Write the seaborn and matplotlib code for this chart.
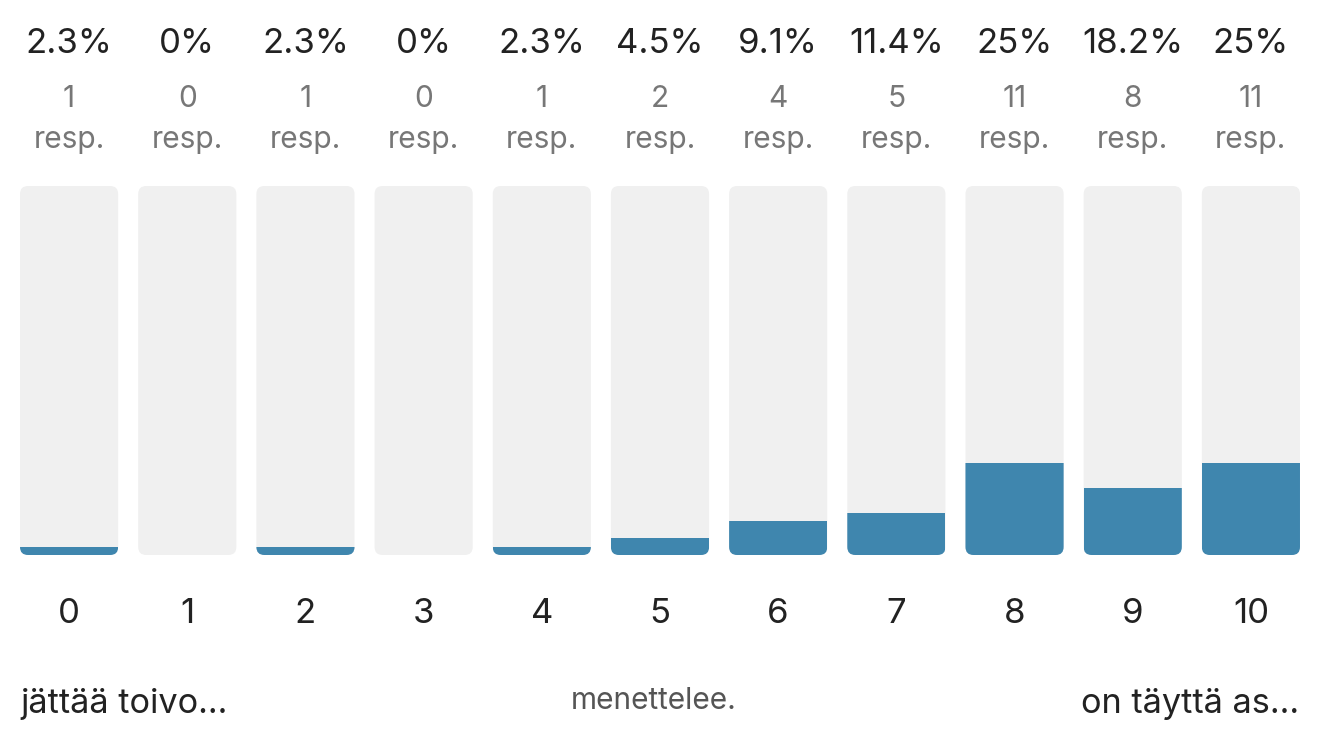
import numpy as np
import pandas as pd
import matplotlib
matplotlib.use('Agg')
import matplotlib.pyplot as plt
import seaborn as sns
from matplotlib.patches import FancyBboxPatch

# chart data
scores = ['0', '1', '2', '3', '4', '5', '6', '7', '8', '9', '10']
percents = [2.3, 0.0, 2.3, 0.0, 2.3, 4.5, 9.1, 11.4, 25.0, 18.2, 25.0]
pct_labels = ['2.3%', '0%', '2.3%', '0%', '2.3%', '4.5%', '9.1%', '11.4%', '25%', '18.2%', '25%']
responses = [1, 0, 1, 0, 1, 2, 4, 5, 11, 8, 11]
left_label = 'jättää toivo...'
mid_label = 'menettelee.'
right_label = 'on täyttä as...'

sns.set_theme(style='white')
plt.rcParams['font.family'] = ['Inter', 'DejaVu Sans']

df = pd.DataFrame({'score': scores, 'share': np.array(percents) / 100.0, 'full': 1.0})

fig = plt.figure(figsize=(13.44, 7.52), dpi=100)
ax = fig.add_axes([10 / 1344, 197 / 752, 1300 / 1344, 369 / 752])

bar_w = 98 / 118
sns.barplot(data=df, x='score', y='full', color='#f0f0f0', width=bar_w, ax=ax, saturation=1)
n = len(scores)
gray_bars = list(ax.patches[:n])
sns.barplot(data=df, x='score', y='share', color='#3f86ae', width=bar_w, ax=ax, saturation=1)
blue_bars = list(ax.patches[n:])

ax.set_xlim(-0.5, n - 0.5)
ax.set_ylim(0, 1)

# swap the gray rectangles for rounded ones and clip the blue fill to them
px_x = 118.0
px_y = 369.0
radius = 8.0 / px_x
for g, b in zip(gray_bars, blue_bars):
    x0, y0 = g.get_x(), g.get_y()
    w, h = g.get_width(), g.get_height()
    g.remove()
    rb = FancyBboxPatch((x0, y0), w, h,
                        boxstyle='round,pad=0,rounding_size=%f' % radius,
                        mutation_aspect=px_x / px_y,
                        facecolor='#f0f0f0', edgecolor='none', zorder=1)
    ax.add_patch(rb)
    b.set_zorder(2)
    b.set_edgecolor('none')
    b.set_clip_path(rb)

ax.set_xlabel('')
ax.set_ylabel('')
ax.set_yticks([])
ax.tick_params(axis='x', length=0, pad=31, labelsize=25, labelcolor='#222222')
for s in ax.spines.values():
    s.set_visible(False)

# label stacks above the bars (pixel rows converted to axes fraction)
trans = ax.get_xaxis_transform()
for i in range(n):
    ax.text(i, (555 - 44) / px_y, pct_labels[i], transform=trans,
            ha='center', va='center', fontsize=25, color='#222222')
    ax.text(i, (555 - 99) / px_y, str(responses[i]), transform=trans,
            ha='center', va='center', fontsize=21.5, color='#777777')
    ax.text(i, (555 - 140) / px_y, 'resp.', transform=trans,
            ha='center', va='center', fontsize=21.5, color='#777777')

fig.text(20 / 1344, 1 - 704 / 752, left_label, ha='left', va='center', fontsize=24.7, color='#222222')
fig.text(654 / 1344, 1 - 701 / 752, mid_label, ha='center', va='center', fontsize=21.5, color='#555555')
fig.text(1299 / 1344, 1 - 704 / 752, right_label, ha='right', va='center', fontsize=24.7, color='#222222')

fig.savefig('out.png', dpi=100, facecolor='white')
